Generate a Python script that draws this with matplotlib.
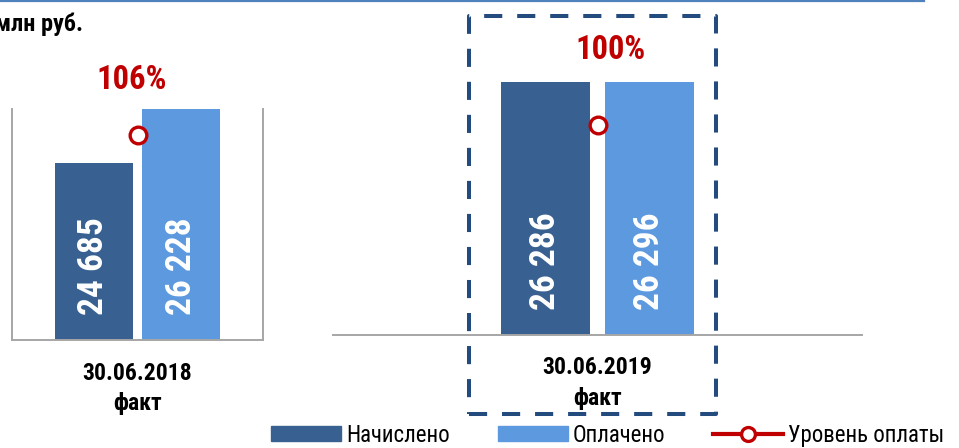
import matplotlib
matplotlib.use("Agg")
import matplotlib.pyplot as plt
from matplotlib import font_manager
from matplotlib.patches import Rectangle
from matplotlib.lines import Line2D

names = {f.name for f in font_manager.fontManager.ttflist}
MAIN = next((n for n in ['Liberation Sans Narrow', 'Arial Narrow', 'Roboto Condensed',
                         'PT Sans Narrow', 'Archivo Narrow'] if n in names), 'Liberation Sans')
plt.rcParams['font.family'] = [MAIN, 'DejaVu Sans']

# ---- data ----
periods = ["30.06.2018\nфакт", "30.06.2019\nфакт"]
accrued = [24685, 26286]
paid = [26228, 26296]
pay_level = [1.06, 1.00]
pay_level_labels = ["106%", "100%"]
series_names = ["Начислено", "Оплачено", "Уровень оплаты"]
unit_label = "млн руб."

C_DARK = "#386192"
C_LIGHT = "#5D99DF"
C_RED = "#C00000"
C_GRAY = "#A6A6A6"
C_BOX = "#244B7E"

W, H = 959, 448
fig = plt.figure(figsize=(W / 100, H / 100), dpi=100)


def px_axes(x0, y0, x1, y1):
    return fig.add_axes([x0 / W, 1 - y1 / H, (x1 - x0) / W, (y1 - y0) / H])


def fmt(v):
    return f"{v:,}".replace(",", " ")


panels = [
    dict(rect=(12, 109, 263, 340), ylim=(19630, 26228), y2top=1.194, xlim=0.563,
         off=0.196, width=0.35, spines=("left", "right", "bottom"),
         pct_xy=(132, 80), lab_y=(373, 403)),
    dict(rect=(333, 82, 862, 335), ylim=(0, 26296), y2top=1.205, xlim=1.04,
         off=0.204, width=0.35, spines=("bottom",),
         pct_xy=(611, 50), lab_y=(367.5, 398)),
]

for i, p in enumerate(panels):
    ax = px_axes(*p["rect"])
    ax.set_ylim(*p["ylim"])
    ax.set_xlim(-p["xlim"], p["xlim"])
    for s in ax.spines:
        ax.spines[s].set_visible(s in p["spines"])
        ax.spines[s].set_color(C_GRAY)
        ax.spines[s].set_linewidth(1.4)
    ax.set_xticks([])
    ax.set_yticks([])
    ax.patch.set_alpha(0)
    b1 = ax.bar([-p["off"]], [accrued[i]], width=p["width"], color=C_DARK, zorder=2)
    b2 = ax.bar([p["off"]], [paid[i]], width=p["width"], color=C_LIGHT, zorder=2)
    for bars, vals in ((b1, [accrued[i]]), (b2, [paid[i]])):
        for r, v in zip(bars, vals):
            ax.annotate(fmt(v), xy=(r.get_x() + r.get_width() / 2, p["ylim"][0]),
                        xytext=(0, 18), textcoords="offset points",
                        rotation=90, ha="center", va="bottom", color="white",
                        fontsize=25.5, fontweight="bold")
    ax2 = ax.twinx()
    ax2.set_ylim(0, p["y2top"])
    ax2.axis("off")
    ax2.plot([0], [pay_level[i]], marker="o", markersize=12, markerfacecolor="white",
             markeredgecolor=C_RED, markeredgewidth=2.4, color=C_RED, lw=3, zorder=5)
    x0, y0, x1, y1 = p["rect"]
    cx = (x0 + x1) / 2 / W
    px, py = p["pct_xy"]
    fig.text(px / W, 1 - py / H, pay_level_labels[i], ha="center", va="center",
             color=C_RED, fontsize=23.5, fontweight="bold")
    top, bot = periods[i].split("\n")
    fig.text(cx, 1 - p["lab_y"][0] / H, top, ha="center", va="center",
             fontsize=17, fontweight="bold")
    fig.text(cx, 1 - p["lab_y"][1] / H, bot, ha="center", va="center",
             fontsize=17, fontweight="bold")

# unit label
fig.text(83 / W, 1 - 24 / H, unit_label, ha="right", va="center", fontsize=17.5, fontweight="bold")

# top rule
fig.add_artist(Line2D([0, 924 / W], [1 - 1 / H, 1 - 1 / H], color="#4F81BD", lw=1.6,
                      transform=fig.transFigure))

# dashed highlight box
fig.add_artist(Rectangle((469 / W, 1 - 414 / H), (716 - 469) / W, (414 - 16) / H,
                         transform=fig.transFigure, fill=False, edgecolor=C_BOX,
                         lw=2.9, linestyle=(0, (4.5, 3.7)), joinstyle="round",
                         capstyle="butt"))

# legend
handles = [
    Rectangle((0, 0), 1, 1, color=C_DARK),
    Rectangle((0, 0), 1, 1, color=C_LIGHT),
    Line2D([], [], color=C_RED, lw=3, marker="o", markersize=10,
           markerfacecolor="white", markeredgecolor=C_RED, markeredgewidth=2.4),
]
fig.legend(handles, series_names, loc="center left", bbox_to_anchor=(271 / W, 1 - 435 / H),
           ncol=3, frameon=False, fontsize=16.5, handlelength=3.05, handleheight=0.62,
           handletextpad=0.22, columnspacing=2.1, borderpad=0, borderaxespad=0)

fig.savefig("out.png", dpi=100)
